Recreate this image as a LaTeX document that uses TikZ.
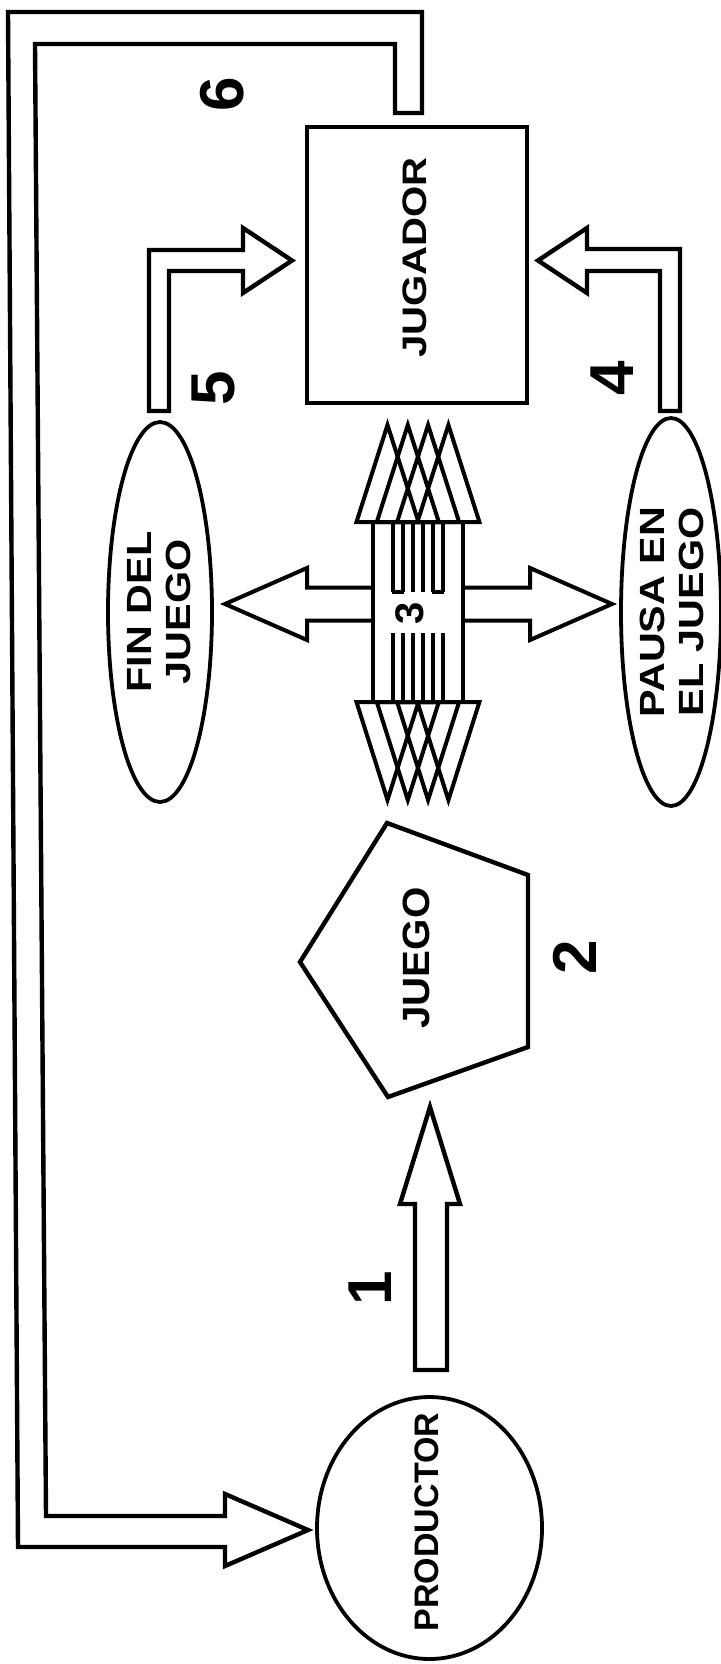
\documentclass[tikz,border=0pt]{standalone}
\usepackage{fontspec}
\setmainfont{Liberation Sans}
\usepackage{graphicx}
\newcommand\sx[2]{\scalebox{#1}[1]{#2}}
\begin{document}
\begin{tikzpicture}[x=0.5pt,y=-0.5pt,
  blk/.style={draw, line width=2.2pt, line join=miter},
  stack/.style={draw, line width=2pt, line join=miter},
  oval/.style={draw, line width=1.9pt},
  lbl/.style={inner sep=0pt, rotate=90, font=\bfseries\fontsize{17}{20}\selectfont},
  two/.style={inner sep=0pt, rotate=90, font=\bfseries\fontsize{17.5}{19.5}\selectfont},
  num/.style={inner sep=0pt, rotate=90, font=\bfseries\fontsize{31}{34}\selectfont}]
\useasboundingbox (0,0) rectangle (720,1664);
\fill[white] (0,0) rectangle (720,1664);

% ---- shapes
\draw[blk] (307,127) rectangle (527,403);
\draw[oval] (160,612) ellipse [x radius=52, y radius=190];
\draw[oval] (671,612) ellipse [x radius=50, y radius=194];
\draw[oval] (429.5,1528) ellipse [x radius=112.5, y radius=131];
\draw[blk] (387,823) -- (528,875) -- (528,1047) -- (388,1097) -- (300,962) -- cycle;

% ---- texts
\node[lbl] (prod) at (426.5,1522) {PRODUCTOR};
\node[lbl] (jug) at (415,257.5) {\sx{1.18}{JUGADOR}};
\node[lbl, font=\bfseries\fontsize{19}{22}\selectfont] (juego) at (416.5,958) {\sx{1.06}{JUEGO}};
\node[two] (fin) at (163,612) {\sx{1.18}{\begin{tabular}{@{}c@{}}FIN DEL\\JUEGO\end{tabular}}};
\node[two] (pausa) at (676,612) {\sx{1.18}{\begin{tabular}{@{}c@{}}PAUSA EN\\EL JUEGO\end{tabular}}};
\node[num] (n1) at (370,1288) {1};
\node[num] (n2) at (575,957) {2};
\node[num, font=\bfseries\fontsize{20}{22}\selectfont] (n3) at (410,613) {3};
\node[num] (n4) at (612,378) {4};
\node[num] (n5) at (213,388) {5};
\node[num] (n6) at (222,94) {6};

% ---- arrow 6 (feedback loop to PRODUCTOR)
\draw[blk] (422,113) -- (422,12) -- (8,12) -- (18,1547) -- (225,1547) -- (225,1566)
  -- (308,1530) -- (225,1494) -- (225,1516) -- (46,1516) -- (35,44) -- (395,44)
  -- (395,113) -- cycle;

% ---- arrow 1
\draw[blk] (415,1370) -- (415,1204) -- (400,1204) -- (430,1107) -- (460,1204)
  -- (447,1204) -- (447,1370) -- cycle;

% ---- arrow 5
\draw[blk] (149,411) -- (149,250) -- (243,250) -- (243,228) -- (292,260.5)
  -- (243,293) -- (243,271) -- (169,271) -- (169,411) -- cycle;

% ---- arrow 4
\draw[blk] (680,411) -- (680,249) -- (587,249) -- (587,228) -- (538,260.5)
  -- (587,293) -- (587,271) -- (660,271) -- (660,411) -- cycle;

% ---- arrow 3 : stack of vertical double arrows
\foreach \c in {387.5,407.8,428.1,448.4}{
  \draw[stack] (\c,425) -- (\c+31,522) -- (\c-31,522) -- cycle;
  \draw[stack] (\c,800) -- (\c+31,702) -- (\c-31,702) -- cycle;
}
\draw[stack] (372.5,522) -- (372.5,702);
\draw[stack] (463.4,522) -- (463.4,702);
\foreach \x in {392.8,402.5,413.1,422.8,433.4,443.1}{
  \draw[stack] (\x,522) -- (\x,592);
  \draw[stack] (\x,633) -- (\x,702);
}
\draw[stack] (391.8,592) -- (403.5,592);
\draw[stack] (432.4,592) -- (444.1,592);
% horizontal double arrow
\draw[stack] (372.5,587.5) -- (307,587.5) -- (307,568) -- (225,604) -- (307,640)
  -- (307,620.5) -- (372.5,620.5);
\draw[stack] (463.4,587.5) -- (530,587.5) -- (530,568) -- (612,604) -- (530,640)
  -- (530,620.5) -- (463.4,620.5);
\end{tikzpicture}
\end{document}
